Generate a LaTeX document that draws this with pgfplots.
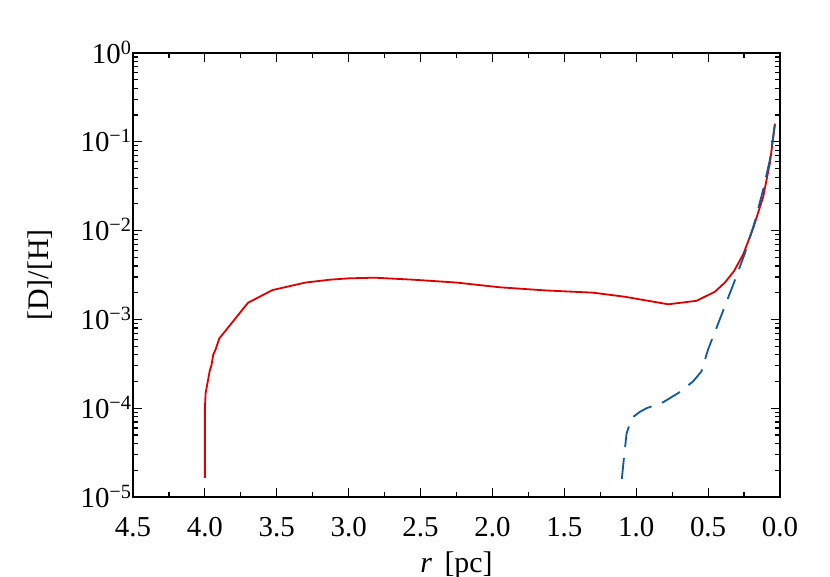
\documentclass[border=0pt]{standalone}
\usepackage{fontspec}
\setmainfont{Liberation Serif}
\usepackage{pgfplots}
\pgfplotsset{compat=1.18}
\definecolor{cred}{RGB}{222,0,0}
\definecolor{cblue}{RGB}{16,90,150}
\begin{document}
\begin{tikzpicture}
\begin{axis}[
  scale only axis,
  width=647bp, height=444bp,
  xmin=0, xmax=4.5, x dir=reverse,
  ymode=log, ymin=1e-5, ymax=1,
  xtick={0,0.5,...,4.5},
  minor x tick num=1,
  ytick={1e-5,1e-4,1e-3,1e-2,1e-1,1},
  yticklabels={10\textsuperscript{−5},10\textsuperscript{−4},10\textsuperscript{−3},10\textsuperscript{−2},10\textsuperscript{−1},10\textsuperscript{0}},
  /pgf/number format/assume math mode=true,
  xticklabel style={/pgf/number format/fixed,/pgf/number format/fixed zerofill,/pgf/number format/precision=1, anchor=base, yshift=-39bp},
  yticklabel style={anchor=base east, yshift=-10bp, xshift=2bp},
  tick label style={font=\fontsize{29}{32}\selectfont, black},
  label style={font=\fontsize{30}{33}\selectfont},
  xlabel={\textit{r}\, [pc]},
  ylabel={[D]/[H]},
  xlabel style={at={(axis description cs:0.5,-0.169)}, anchor=base},
  ylabel style={at={(axis description cs:-0.1437,0.5)}, anchor=center},
  tick align=inside,
  major tick length=9bp, minor tick length=5bp,
  every tick/.style={black, line width=1.2bp},
  axis line style={line width=1.5bp},
]
\addplot[cred, line width=1.8bp] coordinates {
(4.0,1.64e-5) (4.0,3e-5) (4.0,6e-5) (4.0,1.0e-4) (3.995,1.47e-4) (3.98,2e-4) (3.965,2.7e-4) (3.955,3.0e-4) (3.942,4.0e-4) (3.925,4.6e-4) (3.90,6.1e-4)
(3.70,1.54e-3) (3.53,2.14e-3) (3.30,2.6e-3) (3.13,2.8e-3) (3.0,2.9e-3) (2.82,2.95e-3) (2.55,2.8e-3) (2.25,2.6e-3) (1.95,2.3e-3) (1.63,2.12e-3) (1.30,2.0e-3)
(1.08,1.8e-3) (0.777,1.48e-3) (0.58,1.62e-3) (0.453,2.05e-3) (0.383,2.6e-3) (0.32,3.5e-3) (0.256,5.4e-3) (0.186,1.07e-2) (0.117,2.4e-2) (0.07,5.8e-2) (0.035,1.6e-1)
};
\addplot[cblue, line width=1.8bp, dash pattern=on 21bp off 11bp] coordinates {
(1.10,1.6e-5) (1.085,2.8e-5) (1.067,5.2e-5) (1.03,7.8e-5) (0.974,9.1e-5) (0.928,1.0e-4) (0.812,1.17e-4) (0.708,1.48e-4) (0.605,2.0e-4) (0.546,2.6e-4)
(0.50,4.6e-4) (0.407,1.12e-3) (0.314,2.75e-3) (0.245,5.5e-3) (0.175,1.26e-2) (0.117,2.9e-2) (0.07,6.3e-2) (0.035,1.6e-1)
};
\end{axis}
\path (current axis.south west) ++(-133bp,-80bp) coordinate (bbA);
\path (current axis.north east) ++(50bp,53bp) coordinate (bbB);
\pgfresetboundingbox
\useasboundingbox (bbA) rectangle (bbB);
\end{tikzpicture}
\end{document}
